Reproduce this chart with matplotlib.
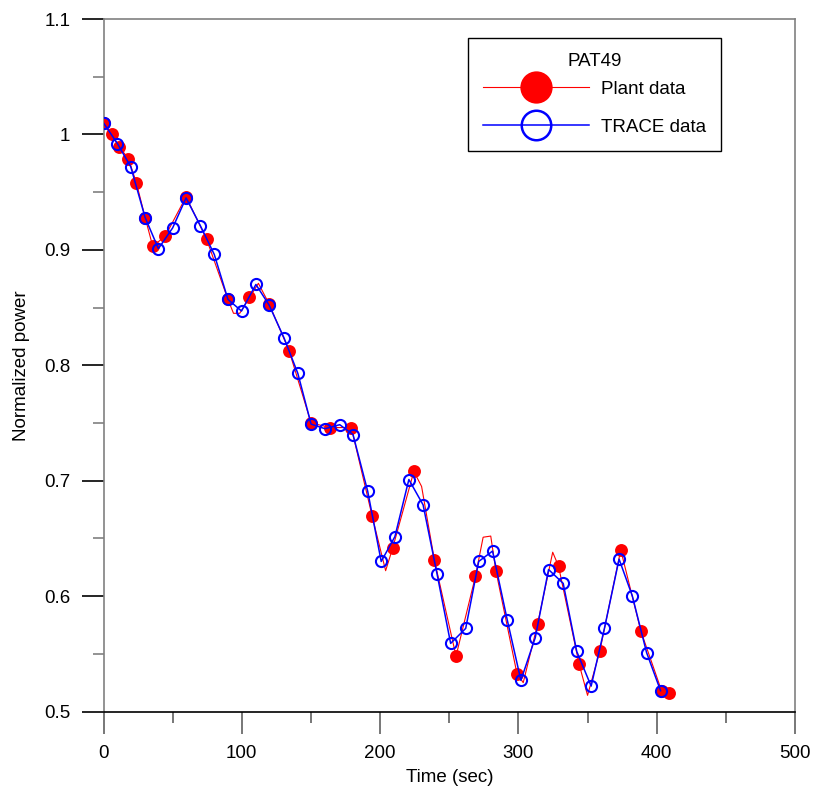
import matplotlib
matplotlib.use("Agg")
import matplotlib.pyplot as plt
from matplotlib.ticker import MultipleLocator, FuncFormatter

plt.rcParams['font.family'] = ['Liberation Sans', 'DejaVu Sans']

# TRACE data (blue open circles, ~10 s sampling)
trace_t = [0, 10.1, 19.7, 30.1, 39.7, 50, 59.7, 70, 80.1, 90, 99.8, 110.2, 119.8,
           130.6, 140.5, 150.1, 160.2, 170.8, 180.4, 191, 200.8, 210.7, 220.8,
           231.1, 241.2, 251, 261.9, 271.3, 281.3, 292, 301.8, 312.2, 321.8,
           332.4, 342.2, 352.6, 362.2, 372.8, 382.4, 392.7, 402.8]
trace_v = [1.010, 0.992, 0.972, 0.928, 0.901, 0.919, 0.945, 0.921, 0.896, 0.857,
           0.847, 0.870, 0.852, 0.8235, 0.793, 0.749, 0.745, 0.7485, 0.740, 0.691,
           0.630, 0.6515, 0.701, 0.679, 0.619, 0.559, 0.572, 0.630, 0.639, 0.579,
           0.527, 0.564, 0.623, 0.611, 0.552, 0.522, 0.572, 0.632, 0.600, 0.551,
           0.518]

# Plant data markers
plant_t = [0, 5.8, 11.5, 18, 23.8, 30.1, 35.6, 44.7, 59.7, 74.6, 90, 104.9, 119.8,
           134.2, 150.1, 164, 179.2, 194.3, 209.2, 224.4, 239.3, 254.9, 268.9,
           283.8, 299, 313.9, 329, 343.9, 358.8, 374, 388.6, 403.5, 408.9]
plant_v = [1.010, 1.000, 0.989, 0.979, 0.958, 0.928, 0.903, 0.912, 0.946, 0.909,
           0.857, 0.859, 0.853, 0.8126, 0.750, 0.746, 0.746, 0.669, 0.642, 0.708,
           0.631, 0.548, 0.617, 0.6215, 0.5326, 0.576, 0.626, 0.541, 0.552, 0.640,
           0.5695, 0.518, 0.516]

# Plant data line (denser recording, extra points between markers)
plant_line_t = [0, 5.8, 11.5, 18, 23.8, 30.1, 35.6, 44.7, 59.7, 74.6, 90, 94, 98.5,
                112, 119.8, 134.2, 150.1, 164, 179.2, 194.3, 204, 209.2, 224.4, 230,
                239.3, 254.9, 268.9, 274.5, 280, 283.8, 299, 303.5, 313.9, 324.8,
                329, 343.9, 350, 358.8, 374, 388.6, 403.5, 408.9]
plant_line_v = [1.010, 1.000, 0.989, 0.979, 0.958, 0.928, 0.903, 0.912, 0.946, 0.909,
                0.857, 0.845, 0.845, 0.871, 0.853, 0.8126, 0.750, 0.746, 0.746, 0.669,
                0.622, 0.642, 0.708, 0.695, 0.631, 0.548, 0.617, 0.651, 0.652, 0.6215,
                0.5326, 0.525, 0.576, 0.638, 0.626, 0.541, 0.514, 0.552, 0.640, 0.5695,
                0.518, 0.516]

fig = plt.figure(figsize=(8.16, 7.96), dpi=100)
ax = fig.add_axes([103.5 / 816, 1 - 711.5 / 796, (795 - 103.5) / 816, (711.5 - 19) / 796])

# red line + markers
ax.plot(plant_line_t, plant_line_v, color='#ff0000', lw=0.8, zorder=2)
ax.plot(plant_t, plant_v, ls='none', marker='o', ms=9.3, mfc='#ff0000', mec='#ff0000',
        mew=0, zorder=3)
# blue line + open circles
ax.plot(trace_t, trace_v, color='#0000ff', lw=1.1, marker='o', ms=8, mfc='none',
        mec='#0000ff', mew=1.5, zorder=4)

# legend handles (line + marker)
h1, = ax.plot([], [], color='#ff0000', lw=0.8, marker='o', ms=9.3, mfc='#ff0000',
              mec='#ff0000', mew=0)
h2, = ax.plot([], [], color='#0000ff', lw=1.1, marker='o', ms=8.5, mfc='none',
              mec='#0000ff', mew=1.8)
leg = ax.legend([h1, h2], ['Plant data', 'TRACE data'], title='PAT49',
                loc='upper left', bbox_to_anchor=(0.527, 0.9726), borderaxespad=0,
                fontsize=13.5, title_fontsize=13.5, markerscale=2.5,
                handlelength=5.65, handletextpad=0.65, labelspacing=1.1,
                borderpad=0.8, fancybox=False, framealpha=1, edgecolor='black')
leg.get_frame().set_linewidth(1.0)
# tighter gap between title and entries
leg._legend_box.sep = 7.8

ax.set_xlim(0, 500)
ax.set_ylim(0.5, 1.1)
ax.xaxis.set_major_locator(MultipleLocator(100))
ax.xaxis.set_minor_locator(MultipleLocator(50))
ax.yaxis.set_major_locator(MultipleLocator(0.1))
ax.yaxis.set_minor_locator(MultipleLocator(0.05))
ax.yaxis.set_major_formatter(FuncFormatter(lambda v, p: '%g' % round(v, 2)))

for s in ['left', 'top', 'right']:
    ax.spines[s].set_color('#808080')
ax.spines['bottom'].set_color('black')
for s in ax.spines.values():
    s.set_linewidth(1.2)

ax.tick_params(axis='both', which='major', direction='out', length=16, width=1.2,
               labelsize=13.5, pad=8)
ax.tick_params(axis='both', which='minor', direction='out', length=8, width=1.2)
ax.tick_params(axis='x', which='both', color='#606060')
ax.tick_params(axis='y', which='major', color='black')
ax.tick_params(axis='y', which='minor', color='#808080')

ax.set_xlabel('Time (sec)', fontsize=13.5, labelpad=5)
ax.set_ylabel('Normalized power', fontsize=13.5, labelpad=10)

fig.savefig('out.png', dpi=100)
